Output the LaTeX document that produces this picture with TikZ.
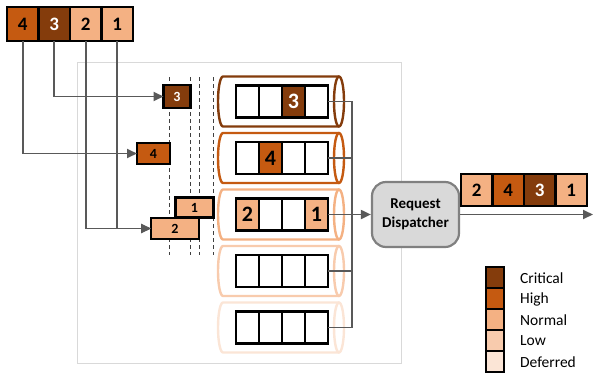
\documentclass[tikz,border=0pt]{standalone}
\usepackage{fontspec}
\setmainfont{Carlito}
\usetikzlibrary{arrows.meta}
\definecolor{crit}{HTML}{843C0C}
\definecolor{high}{HTML}{C55A11}
\definecolor{norm}{HTML}{F4B183}
\definecolor{low}{HTML}{F8CBAD}
\definecolor{defer}{HTML}{FBE5D6}
\definecolor{conngray}{HTML}{595959}
\definecolor{framegray}{HTML}{D9D9D9}
\begin{document}
\begin{tikzpicture}[x=1pt,y=-1pt,
  box/.style={draw=black, line width=2.8pt, fill=white, inner sep=0pt, outer sep=0pt, font=\bfseries},
  qcell/.style={box, minimum width=31.5pt, minimum height=34pt, font=\bfseries\fontsize{19}{19}\selectfont},
  ocell/.style={box, minimum width=31.5pt, minimum height=32pt, font=\bfseries\fontsize{19}{19}\selectfont},
  ccell/.style={box, minimum width=23pt, minimum height=32pt, font=\bfseries\fontsize{22}{22}\selectfont},
  sbox/.style={box, minimum height=21pt, font=\bfseries\fontsize{14}{14}\selectfont},
  lcell/.style={box, line width=2.8pt, minimum width=18pt, minimum height=21pt},
  ltext/.style={anchor=west, inner sep=0pt, font=\fontsize{15.5}{15.5}\selectfont},
  conn/.style={draw=conngray, line width=1.9pt},
  arr/.style={conn, -{Triangle[length=10pt,width=9pt]}},
  sep/.style={draw=black!75, line width=1pt, dash pattern=on 4pt off 3pt},
  cylwall/.style={line width=2.4pt}
]
\useasboundingbox (0,0) rectangle (593,375);
% frame
\draw[framegray, line width=0.9pt] (77,62) rectangle (401,363);

% top queue
\node[qcell, fill=high] (t4) at (22.75,24) {4};
\node[qcell, fill=crit, text=white] (t3) at (54.25,24) {3};
\node[qcell, fill=norm] (t2) at (85.75,24) {2};
\node[qcell, fill=norm] (t1) at (117.25,24) {1};

% dashed separators
\foreach \x in {169,190,199,213} \draw[sep] (\x,77) -- (\x,255);

% incoming boxes
\node[sbox, fill=crit, text=white, minimum width=27pt, minimum height=23pt] (b3) at (177,96.5) {3};
\node[sbox, fill=high, minimum width=33pt] (b4) at (153.5,153.5) {4};
\node[sbox, fill=norm, minimum width=38pt, minimum height=20pt] (b1) at (194.5,207.5) {1};
\node[sbox, fill=norm, minimum width=48pt] (b2) at (175,228.5) {2};

% connectors from top queue
\draw[arr] (t3.south) |- (b3.west);
\draw[arr] (t4.south) |- (b4.west);
\draw[arr] (t2.south) |- (b2.west);
\draw[arr] (t1.south) |- (b2.west);

% cylinders
\foreach \c/\col in {101.5/crit,158/high,214.5/norm,271/low,327.5/defer} {
  \draw[\col, cylwall, fill=white] (339,\c-25) -- (223,\c-25)
     arc[start angle=90, end angle=270, x radius=5pt, y radius=25pt] -- (339,\c+25);
  \draw[\col, cylwall] (339,\c) ellipse[x radius=5pt, y radius=25pt];
}

% queue cells
\node[ccell] (q1c1) at (247.5,101.5) {};
\node[ccell] (q1c2) at (270.5,101.5) {};
\node[ccell, fill=crit, text=white] (q1c3) at (293.5,101.5) {3};
\node[ccell] (q1c4) at (316.5,101.5) {};

\node[ccell] (q2c1) at (247.5,158) {};
\node[ccell, fill=high] (q2c2) at (270.5,158) {4};
\node[ccell] (q2c3) at (293.5,158) {};
\node[ccell] (q2c4) at (316.5,158) {};

\node[ccell, fill=norm] (q3c1) at (247.5,214.5) {2};
\node[ccell] (q3c2) at (270.5,214.5) {};
\node[ccell] (q3c3) at (293.5,214.5) {};
\node[ccell, fill=norm] (q3c4) at (316.5,214.5) {1};

\foreach \r/\c in {4/271,5/327.5}
  \foreach \j/\x in {1/247.5,2/270.5,3/293.5,4/316.5}
    \node[ccell] (q\r c\j) at (\x,\c) {};

% dispatcher
\node[draw=black!50, fill=framegray, line width=2.2pt, rounded corners=14pt,
      minimum width=87pt, minimum height=65pt, align=center, inner sep=0pt,
      font=\bfseries\fontsize{15}{19}\selectfont] (disp) at (415.5,214.5) {Request\\Dispatcher};

% bus
\coordinate (bus) at (352,0);
\draw[conn] (q1c4.east) -- (q1c4.east -| bus) -- (q5c4.east -| bus) -- (q5c4.east);
\draw[conn] (q2c4.east) -- (q2c4.east -| bus);
\draw[conn] (q4c4.east) -- (q4c4.east -| bus);
\draw[arr] (q3c4.east) -- (disp.west);

% output
\coordinate (outend) at (593,214.5);
\draw[arr] (disp.east) -- (outend);
\node[ocell, fill=norm] (o2) at (476.75,190) {2};
\node[ocell, fill=high] (o4) at (508.25,190) {4};
\node[ocell, fill=crit, text=white] (o3) at (539.75,190) {3};
\node[ocell, fill=norm] (o1) at (571.25,190) {1};

% legend
\node[lcell, fill=crit] (lc) at (495,277.5) {};
\node[lcell, fill=high] (lh) at (495,298.5) {};
\node[lcell, fill=norm] (ln) at (495,319.5) {};
\node[lcell, fill=low] (ll) at (495,340.5) {};
\node[lcell, fill=defer] (ld) at (495,361.5) {};
\node[ltext] (tc) at (520,278) {Critical};
\node[ltext] (th) at (520,299) {High};
\node[ltext] (tn) at (520,320) {Normal};
\node[ltext] (tl) at (520,341) {Low};
\node[ltext] (td) at (520,362) {Deferred};
\end{tikzpicture}
\end{document}
